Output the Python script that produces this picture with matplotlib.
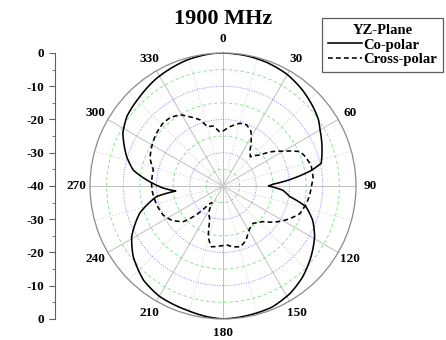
import numpy as np
import matplotlib
matplotlib.use("Agg")
import matplotlib.pyplot as plt
from matplotlib.ticker import MultipleLocator, FixedLocator, FixedFormatter

plt.rcParams['font.family'] = 'Liberation Serif'
plt.rcParams['font.weight'] = 'bold'

# co-polar pattern (deg, dB)
co_angle = [0, 10, 20, 30, 40, 49, 55, 60, 70, 77, 80, 84, 88, 90, 94, 99, 104, 111, 119,
            129, 139, 148, 158, 168, 180, 187, 196, 210, 220, 232, 241, 252, 261, 264, 268,
            272, 280, 287, 298, 306, 317, 328, 344, 356, 360]
co_db = [0, -0.2, -0.6, -1.3, -2.6, -4.0, -5.0, -6.3, -8.3, -9.7, -13.0, -19.0, -25.0, -26.3,
         -22.0, -19.7, -14.3, -11.1, -8.5, -6.0, -3.6, -1.9, -0.7, -0.4, 0, -0.4, -1.1, -1.7,
         -2.9, -5.7, -8.6, -13.7, -19.8, -25.7, -22.0, -19.0, -12.6, -9.7, -5.9, -4.3, -3.3,
         -2.0, -0.6, 0, 0]

# cross-polar pattern (deg, dB)
cx_angle = [0, 7, 15, 21, 27, 30, 37, 43, 50, 55, 60, 66, 70, 77, 85, 90, 96, 102, 110, 117,
            124, 132, 141, 147, 151, 157, 164, 171, 176, 182, 186, 191, 196, 201, 208, 214,
            218, 223, 228, 236, 244, 251, 258, 265, 272, 283, 291, 299, 308, 316, 322, 329,
            333, 341, 345, 351, 356, 360]
cx_db = [-23.5, -22.0, -20.5, -20.3, -21.5, -23.0, -26.5, -28.0, -25.5, -22.0, -19.1, -14.6,
         -13.8, -12.8, -12.8, -13.4, -13.8, -14.4, -15.5, -18.0, -20.7, -24.0, -25.6, -25.0,
         -24.3, -22.3, -21.0, -21.5, -22.2, -22.0, -21.7, -21.4, -24.0, -29.0, -31.0, -34.0,
         -33.0, -28.0, -24.0, -21.5, -20.0, -19.5, -19.1, -18.7, -18.5, -18.5, -16.5, -15.5,
         -14.5, -13.9, -14.0, -15.0, -16.5, -19.0, -21.5, -21.8, -23.6, -23.5]

db_labels = ['0', '-10', '-20', '-30', '-40', '-30', '-20', '-10', '0']

fig = plt.figure(figsize=(4.46, 3.40), dpi=100)
ax = fig.add_axes([0.2018, 0.0618, 0.5964, 0.7824], projection='polar')
ax.set_theta_zero_location('N')
ax.set_theta_direction(-1)
ax.set_ylim(-40, 0)

# radial grid: green dashed at odd 5 dB, blue dotted at 10 dB
ax.set_yticks([-35, -30, -25, -20, -15, -10, -5])
ax.set_yticklabels([])
for i, gl in enumerate(ax.yaxis.get_gridlines()):
    if i % 2 == 0:
        gl.set(color='#7de07d', linestyle=(0, (4, 3)), linewidth=0.6)
    else:
        gl.set(color='#8c8cff', linestyle=(0, (1, 1.5)), linewidth=0.7)

# angular grid: solid every 30, dotted in between
ax.set_xticks(np.deg2rad(np.arange(0, 360, 15)))
lbls = []
for a in range(0, 360, 15):
    lbls.append(str(a) if a % 30 == 0 else '')
ax.set_xticklabels(lbls, fontsize=9.5, fontweight='bold')
for i, gl in enumerate(ax.xaxis.get_gridlines()):
    if i % 2 == 0:
        gl.set(color='#c0c0c0', linestyle='-', linewidth=0.7)
    else:
        gl.set(color='#d8d8d8', linestyle=(0, (2, 2)), linewidth=0.6)
ax.tick_params(axis='x', pad=3, length=3, direction='in', color='#a0a0a0')
ax.spines['polar'].set_color('#8a8a8a')
ax.spines['polar'].set_linewidth(0.9)

l1, = ax.plot(np.deg2rad(co_angle), co_db, color='black', linewidth=1.15, label='Co-polar')
l2, = ax.plot(np.deg2rad(cx_angle), cx_db, color='black', linewidth=1.15,
              linestyle=(0, (3, 2)), label='Cross-polar')
# draw segments as curves in polar space
l1.get_path()._interpolation_steps = 12
l2.get_path()._interpolation_steps = 12

# left linear dB scale
sax = fig.add_axes([0.1233, 0.0618, 0.0001, 0.7824])
sax.set_ylim(0, 80)
sax.set_xticks([])
for s in ['top', 'right', 'bottom']:
    sax.spines[s].set_visible(False)
sax.spines['left'].set_color('#606060')
sax.spines['left'].set_linewidth(0.8)
sax.yaxis.set_major_locator(FixedLocator(list(range(0, 81, 10))))
sax.yaxis.set_major_formatter(FixedFormatter(db_labels[::-1]))
sax.yaxis.set_minor_locator(MultipleLocator(5))
sax.tick_params(axis='y', which='major', length=4, color='#606060', labelsize=9.5)
sax.tick_params(axis='y', which='minor', length=2, color='#606060')
for t in sax.get_yticklabels():
    t.set_fontweight('bold')

fig.text(0.5, 0.945, '1900 MHz', ha='center', va='center', fontsize=16, fontweight='bold')

leg = fig.legend(handles=[l1, l2], title='YZ-Plane', loc='upper right',
                 bbox_to_anchor=(0.994, 0.947), fontsize=10.5, title_fontsize=10.5,
                 frameon=True, fancybox=False, handlelength=2.3,
                 handletextpad=0.15, borderpad=0.4, labelspacing=0.1,
                 borderaxespad=0)
leg.get_frame().set_edgecolor('#333333')
leg.get_frame().set_linewidth(0.9)
leg.get_title().set_fontweight('bold')
for t in leg.get_texts():
    t.set_fontweight('bold')

fig.savefig('out.png', dpi=100)
